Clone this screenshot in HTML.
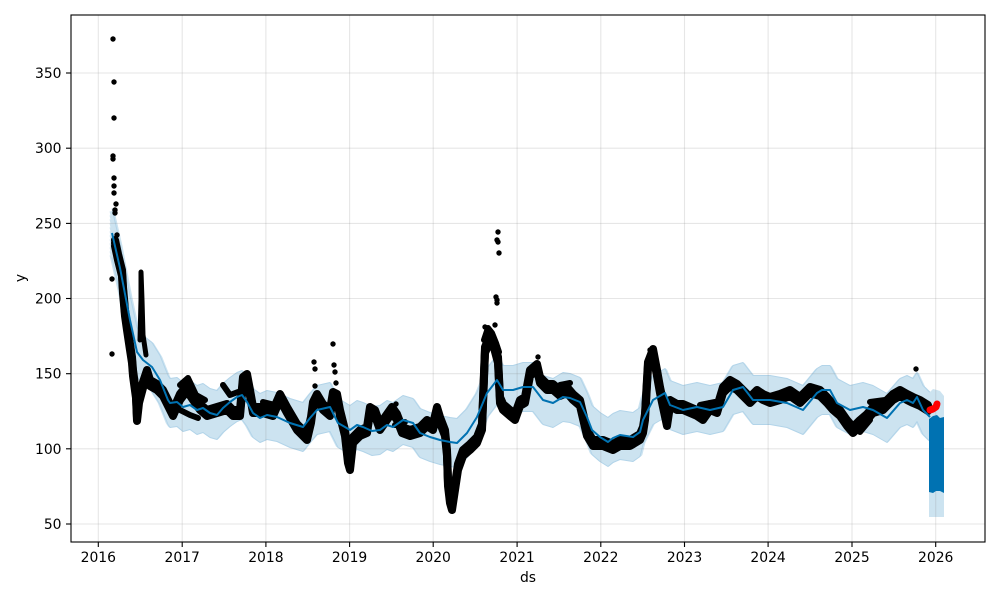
<!DOCTYPE html>
<html>
<head>
<meta charset="utf-8">
<style>
html, body { margin:0; padding:0; background:#ffffff; }
svg { display:block; }
text { font-family: "DejaVu Sans", "Liberation Sans", sans-serif; font-size:13.9px; fill:#000; }
</style>
</head>
<body>
<svg width="1000" height="600" viewBox="0 0 1000 600" xmlns="http://www.w3.org/2000/svg">
<defs>
<clipPath id="ax"><rect x="71" y="15" width="914" height="527"/></clipPath>
<path id="yh" d="M112,233 L120,268 L130,320 L137,352 L143,360 L152,367 L160,380 L168,400 L170,403 L177,402 L183,407 L190,405 L197,410 L203,408 L210,413 L217,415 L223,408 L230,402 L237,397 L242,395 L247,402 L253,413 L260,418 L267,415 L277,417 L290,423 L303,427 L310,418 L317,410 L330,407 L338,423 L345,427 L350,430 L357,425 L363,427 L372,431 L380,430 L387,425 L393,427 L403,420 L413,423 L420,433 L430,437 L440,440 L450,442 L457,443 L467,433 L477,417 L487,393 L497,380 L503,390 L513,390 L523,387 L533,387 L543,400 L553,403 L563,397 L570,398 L580,402 L587,417 L592,430 L600,437 L608,442 L613,438 L620,435 L633,437 L640,432 L643,420 L653,400 L665,393 L670,405 L683,410 L697,407 L710,410 L723,407 L733,390 L743,387 L753,400 L770,400 L787,403 L803,410 L817,393 L822,390 L830,390 L837,403 L850,410 L863,407 L873,410 L887,418 L900,403 L907,400 L913,403 L917,397 L923,410 L930,417"/>
<path id="bk" d="M115,243 L118,257 L122,273 L123,290 L125,313 L127,327 L130,347 L132,360 L133,373 L136,395 L137,418 L139,400 L143,385 L147,373 L150,383 L157,387 L163,393 L170,407 L173,413 L180,397 L187,388 L193,397 L200,407 L207,413 L217,410 L227,407 L233,413 L240,413 L243,380 L247,377 L250,393 L253,410 L263,410 L273,413 L280,397 L287,410 L297,427 L307,437 L311,420 L313,405 L317,397 L323,407 L330,413 L333,395 L337,397 L340,413 L345,433 L348,460 L350,467 L353,440 L360,433 L367,430 L370,410 L375,413 L380,427 L387,417 L392,410 L397,417 L402,430 L410,433 L420,430 L427,423 L433,427 L437,410 L440,420 L445,433 L447,453 L448,483 L450,500 L452,507 L455,487 L458,467 L463,453 L470,447 L477,440 L482,427 L485,350 L490,338 L494,345 L498,360 L500,400 L503,407 L510,413 L515,417 L520,403 L525,400 L530,373 L537,367 L540,380 L547,387 L553,387 L560,393 L567,390 L573,397 L580,403 L587,433 L593,443 L603,443 L613,447 L620,443 L630,443 L640,437 L643,430 L645,417 L648,365 L653,352 L657,373 L660,390 L667,423 L670,403 L677,407 L683,407 L690,410 L697,413 L703,417 L710,407 L717,410 L723,390 L730,383 L737,387 L743,393 L750,400 L757,393 L763,397 L770,400 L780,397 L790,393 L800,400 L810,390 L820,393 L827,400 L833,407 L840,413 L847,423 L853,430 L860,423 L867,417 L873,410 L883,407 L893,397 L900,393 L907,397 L913,400 L920,403 L928,408"/>
</defs>
<rect x="0" y="0" width="1000" height="600" fill="#ffffff"/>
<g clip-path="url(#ax)">
<g fill="none" stroke="#cce3f0" stroke-width="5" stroke-linejoin="round">
<use href="#yh" transform="translate(0,-22)"/>
<use href="#yh" transform="translate(0,-18)"/>
<use href="#yh" transform="translate(0,-14)"/>
<use href="#yh" transform="translate(0,-10)"/>
<use href="#yh" transform="translate(0,-6)"/>
<use href="#yh" transform="translate(0,-2)"/>
<use href="#yh" transform="translate(0,2)"/>
<use href="#yh" transform="translate(0,6)"/>
<use href="#yh" transform="translate(0,10)"/>
<use href="#yh" transform="translate(0,14)"/>
<use href="#yh" transform="translate(0,18)"/>
<use href="#yh" transform="translate(0,22)"/>
</g>
<g fill="none" stroke="#b2d4e9" stroke-width="1" stroke-linejoin="round">
<use href="#yh" transform="translate(0,-24.5)"/>
<use href="#yh" transform="translate(0,24.5)"/>
</g>
<path d="M929,393 L933,389 L937,390 L940,391 L944,396 L944,517 L929,517 Z" fill="#cce3f0"/>
<g stroke="rgba(128,128,128,0.2)" stroke-width="1.1">
<line x1="98.3" y1="15" x2="98.3" y2="542"/>
<line x1="182.2" y1="15" x2="182.2" y2="542"/>
<line x1="265.9" y1="15" x2="265.9" y2="542"/>
<line x1="349.6" y1="15" x2="349.6" y2="542"/>
<line x1="433.2" y1="15" x2="433.2" y2="542"/>
<line x1="517.1" y1="15" x2="517.1" y2="542"/>
<line x1="600.8" y1="15" x2="600.8" y2="542"/>
<line x1="684.5" y1="15" x2="684.5" y2="542"/>
<line x1="768.1" y1="15" x2="768.1" y2="542"/>
<line x1="852.0" y1="15" x2="852.0" y2="542"/>
<line x1="935.7" y1="15" x2="935.7" y2="542"/>
<line x1="71" y1="524" x2="985" y2="524"/>
<line x1="71" y1="448.8" x2="985" y2="448.8"/>
<line x1="71" y1="373.7" x2="985" y2="373.7"/>
<line x1="71" y1="298.5" x2="985" y2="298.5"/>
<line x1="71" y1="223.4" x2="985" y2="223.4"/>
<line x1="71" y1="148.2" x2="985" y2="148.2"/>
<line x1="71" y1="73" x2="985" y2="73"/>
</g>
<g fill="none" stroke="#000" stroke-width="8" stroke-linejoin="round" stroke-linecap="round">
<use href="#bk"/>
<use href="#bk" transform="translate(0,-3)"/>
<use href="#bk" transform="translate(0,3)"/>
</g>
<path d="M140,340 L141,300 L141,272 L142,300 L143,335 L146,355" fill="none" stroke="#000" stroke-width="5" stroke-linejoin="round" stroke-linecap="round"/>
<path d="M180,385 L188,378 L196,395 L205,400 M223,385 L230,395 L238,392 M484,340 L488,328 L492,333 L496,343 L499,352 M597,440 L607,448 M853,425 L860,432 L870,420 M180,410 L190,415 L198,418 M263,402 L275,405 M395,425 L405,422 M560,385 L570,383 M700,405 L715,402 M870,402 L885,400" fill="none" stroke="#000" stroke-width="6" stroke-linejoin="round" stroke-linecap="round"/>
<g fill="#000">
<circle cx="113" cy="39" r="2.7"/>
<circle cx="114" cy="82" r="2.7"/>
<circle cx="114" cy="118" r="2.7"/>
<circle cx="113" cy="156" r="2.7"/>
<circle cx="113" cy="159" r="2.7"/>
<circle cx="114" cy="178" r="2.7"/>
<circle cx="114" cy="186" r="2.7"/>
<circle cx="114" cy="193" r="2.7"/>
<circle cx="116" cy="204" r="2.7"/>
<circle cx="115" cy="210" r="2.7"/>
<circle cx="115" cy="213" r="2.7"/>
<circle cx="117" cy="235" r="2.7"/>
<circle cx="112" cy="279" r="2.7"/>
<circle cx="112" cy="354" r="2.7"/>
<circle cx="137" cy="421" r="2.7"/>
<circle cx="138" cy="410" r="2.7"/>
<circle cx="314" cy="362" r="2.7"/>
<circle cx="315" cy="369" r="2.7"/>
<circle cx="315" cy="386" r="2.7"/>
<circle cx="333" cy="344" r="2.7"/>
<circle cx="334" cy="365" r="2.7"/>
<circle cx="335" cy="372" r="2.7"/>
<circle cx="336" cy="383" r="2.7"/>
<circle cx="396" cy="404" r="2.7"/>
<circle cx="498" cy="232" r="2.7"/>
<circle cx="497" cy="240" r="2.7"/>
<circle cx="498" cy="242" r="2.7"/>
<circle cx="499" cy="253" r="2.7"/>
<circle cx="496" cy="297" r="2.7"/>
<circle cx="497" cy="300" r="2.7"/>
<circle cx="497" cy="303" r="2.7"/>
<circle cx="485" cy="327" r="2.7"/>
<circle cx="495" cy="325" r="2.7"/>
<circle cx="538" cy="357" r="2.7"/>
<circle cx="650" cy="350" r="2.7"/>
<circle cx="653" cy="356" r="2.7"/>
<circle cx="916" cy="369" r="2.7"/>
</g>
<use href="#yh" fill="none" stroke="#0072B2" stroke-width="2" stroke-linejoin="round"/>
<path d="M929,419 L933,416 L937,415 L940,418 L944,417 L944,493 L940,491 L936,491 L933,493 L929,492 Z" fill="#0072B2"/>
<path d="M930,410 L933,409 L936,407 L937,404" fill="none" stroke="#ff0000" stroke-width="7" stroke-linejoin="round" stroke-linecap="round"/>
</g>
<rect x="71" y="15" width="914" height="527" fill="none" stroke="#000" stroke-width="1.1"/>
<g stroke="#000" stroke-width="1.1">
<line x1="98.3" y1="542" x2="98.3" y2="547"/>
<line x1="182.2" y1="542" x2="182.2" y2="547"/>
<line x1="265.9" y1="542" x2="265.9" y2="547"/>
<line x1="349.6" y1="542" x2="349.6" y2="547"/>
<line x1="433.2" y1="542" x2="433.2" y2="547"/>
<line x1="517.1" y1="542" x2="517.1" y2="547"/>
<line x1="600.8" y1="542" x2="600.8" y2="547"/>
<line x1="684.5" y1="542" x2="684.5" y2="547"/>
<line x1="768.1" y1="542" x2="768.1" y2="547"/>
<line x1="852.0" y1="542" x2="852.0" y2="547"/>
<line x1="935.7" y1="542" x2="935.7" y2="547"/>
<line x1="66" y1="524" x2="71" y2="524"/>
<line x1="66" y1="448.8" x2="71" y2="448.8"/>
<line x1="66" y1="373.7" x2="71" y2="373.7"/>
<line x1="66" y1="298.5" x2="71" y2="298.5"/>
<line x1="66" y1="223.4" x2="71" y2="223.4"/>
<line x1="66" y1="148.2" x2="71" y2="148.2"/>
<line x1="66" y1="73" x2="71" y2="73"/>
</g>
<g text-anchor="middle">
<text x="98.3" y="562">2016</text>
<text x="182.2" y="562">2017</text>
<text x="265.9" y="562">2018</text>
<text x="349.6" y="562">2019</text>
<text x="433.2" y="562">2020</text>
<text x="517.1" y="562">2021</text>
<text x="600.8" y="562">2022</text>
<text x="684.5" y="562">2023</text>
<text x="768.1" y="562">2024</text>
<text x="852.0" y="562">2025</text>
<text x="935.7" y="562">2026</text>
</g>
<g text-anchor="end">
<text x="61.5" y="529">50</text>
<text x="61.5" y="453.8">100</text>
<text x="61.5" y="378.7">150</text>
<text x="61.5" y="303.5">200</text>
<text x="61.5" y="228.4">250</text>
<text x="61.5" y="153.2">300</text>
<text x="61.5" y="78">350</text>
</g>
<text x="528" y="582" text-anchor="middle">ds</text>
<text x="0" y="0" text-anchor="middle" transform="translate(25,278) rotate(-90)">y</text>
</svg>
</body>
</html>
